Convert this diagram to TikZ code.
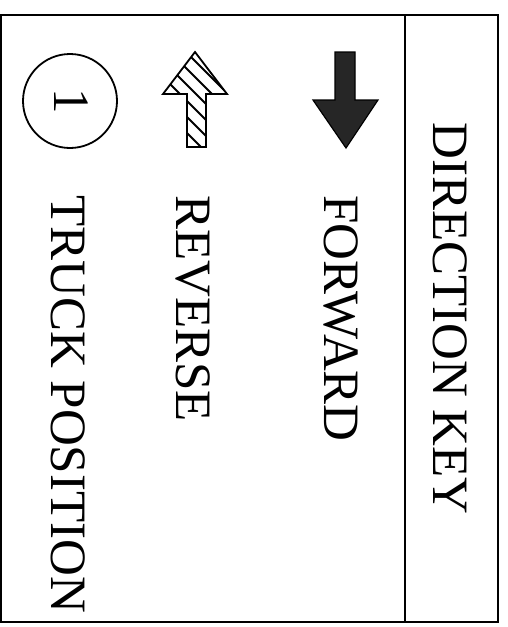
\documentclass[tikz,border=0pt]{standalone}
\usepackage{fontspec}
\setmainfont{Liberation Serif}
\begin{document}
\begin{tikzpicture}[x=1pt,y=-1pt,
  frame/.style={line width=2pt,line join=miter},
  keytext/.style={rotate=-90,anchor=base west,inner sep=0pt,font=\fontsize{51}{51}\selectfont},
  fwdarrow/.style={fill=black!85,draw=black,line width=1.2pt,line join=miter},
  revarrow/.style={draw=black,line width=1.8pt,line join=miter},
  hatch/.style={line width=1.8pt}]
\useasboundingbox (0,0) rectangle (508,627);
\fill[white] (0,0) rectangle (508,627);
% frame
\draw[frame] (1,15) rectangle (498,622);
\draw[frame] (405,15) -- (405,622);
% texts
\node[keytext] (title) at (433,122) {DIRECTION KEY};
\node[keytext] (fwd) at (324,195) {FORWARD};
\node[keytext] (rev) at (176,195) {REVERSE};
\node[keytext] (truck) at (51,195) {TRUCK POSITION};
% forward arrow
\path[fwdarrow] (335,52) -- (355,52) -- (355,100) -- (378,100) -- (346,148) -- (313,100) -- (335,100) -- cycle;
% reverse arrow (hatched)
\begin{scope}
\clip (195,52) -- (227,94) -- (206,94) -- (206,147) -- (187,147) -- (187,94) -- (163,94) -- cycle;
\foreach \c in {134,118,...,38} \draw[hatch] (\c+30,30) -- (\c+170,170);
\end{scope}
\draw[revarrow] (195,52) -- (227,94) -- (206,94) -- (206,147) -- (187,147) -- (187,94) -- (163,94) -- cycle;
% truck position symbol
\node[draw,circle,line width=1.8pt,minimum size=94pt,inner sep=0pt] (pos) at (70,101) {};
\node[rotate=-90,inner sep=0pt,font=\fontsize{51}{51}\selectfont] (one) at (71,101) {1};
\end{tikzpicture}
\end{document}
